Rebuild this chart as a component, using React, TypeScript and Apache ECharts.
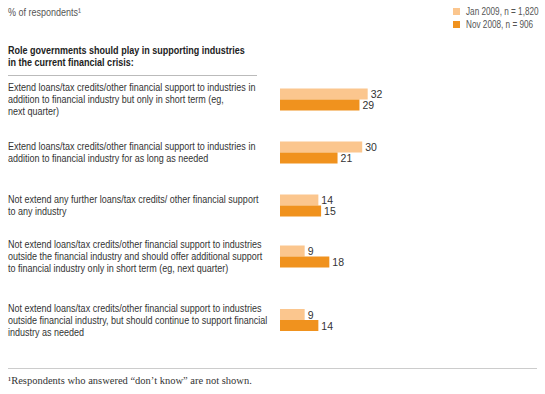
import React, { useEffect, useRef } from "react";
import * as echarts from "echarts";

const categories = [
  "Extend loans/tax credits/other financial support to industries in\naddition to financial industry but only in short term (eg,\nnext quarter)",
  "Extend loans/tax credits/other financial support to industries in\naddition to financial industry for as long as needed",
  "Not extend any further loans/tax credits/ other financial support\nto any industry",
  "Not extend loans/tax credits/other financial support to industries\noutside the financial industry and should offer additional support\nto financial industry only in short term (eg, next quarter)",
  "Not extend loans/tax credits/other financial support to industries\noutside financial industry, but should continue to support financial\nindustry as needed",
];
const seriesNames = ["Jan 2009, n = 1,820", "Nov 2008, n = 906"];
const jan2009 = [32, 30, 14, 9, 9];
const nov2008 = [29, 21, 15, 18, 14];

const groupCenters = [99.5, 152.5, 205.5, 256.5, 320];
const LIGHT = "#FBC68E";
const DARK = "#F0921E";
const FONT = "'Liberation Sans', Arial, sans-serif";
const NARROW = 0.82;

export default function App() {
  const ref = useRef<HTMLDivElement>(null);
  useEffect(() => {
    if (!ref.current) return;
    const chart = echarts.init(ref.current, null, { renderer: "svg" });
    const grids: any[] = [];
    const xAxes: any[] = [];
    const yAxes: any[] = [];
    const series: any[] = [];
    const labelTexts: any[] = [];
    categories.forEach((cat, i) => {
      grids.push({ left: 280, width: 137, top: groupCenters[i] - 11, height: 22 });
      xAxes.push({ gridIndex: i, type: "value", min: 0, max: 50, show: false });
      yAxes.push({
        gridIndex: i,
        type: "category",
        inverse: true,
        data: [cat],
        axisLine: { show: false },
        axisTick: { show: false },
        axisLabel: { show: false },
      });
      labelTexts.push({
        type: "text",
        x: 8,
        y: groupCenters[i],
        scaleX: NARROW,
        style: {
          text: cat,
          font: `11px ${FONT}`,
          lineHeight: 12,
          fill: "#333",
          verticalAlign: "middle",
        },
      });
      [jan2009, nov2008].forEach((vals, s) => {
        series.push({
          type: "bar",
          name: seriesNames[s],
          xAxisIndex: i,
          yAxisIndex: i,
          data: [vals[i]],
          barWidth: 11,
          barGap: "0%",
          itemStyle: { color: s === 0 ? LIGHT : DARK },
          label: {
            show: true,
            position: "right",
            distance: 3,
            fontFamily: FONT,
            fontSize: 10.5,
            color: "#333",
          },
        });
      });
    });
    chart.setOption({
      animation: false,
      backgroundColor: "#fff",
      grid: grids,
      xAxis: xAxes,
      yAxis: yAxes,
      series,
      legend: {
        data: seriesNames,
        orient: "vertical",
        left: 448,
        top: 3,
        itemWidth: 7,
        itemHeight: 7,
        itemGap: 6,
        icon: "rect",
        formatter: () => "",
        textStyle: { fontSize: 1 },
        selectedMode: false,
      },
      graphic: [
        ...labelTexts,
        {
          type: "text",
          x: 466,
          y: 11.5,
          scaleX: NARROW,
          style: { text: seriesNames[0], font: `10px ${FONT}`, fill: "#555", verticalAlign: "middle" },
        },
        {
          type: "text",
          x: 466,
          y: 24.5,
          scaleX: NARROW,
          style: { text: seriesNames[1], font: `10px ${FONT}`, fill: "#555", verticalAlign: "middle" },
        },
        {
          type: "text",
          x: 8,
          y: 12,
          scaleX: NARROW,
          style: { text: "% of respondents¹", font: `11px ${FONT}`, fill: "#555", verticalAlign: "middle" },
        },
        {
          type: "text",
          x: 8,
          y: 56,
          scaleX: NARROW,
          style: {
            text: "Role governments should play in supporting industries\nin the current financial crisis:",
            font: `bold 11px ${FONT}`,
            lineHeight: 12,
            fill: "#222",
            verticalAlign: "middle",
          },
        },
        {
          type: "line",
          shape: { x1: 8, y1: 75.5, x2: 257, y2: 75.5 },
          style: { stroke: "#bbb", lineWidth: 1 },
        },
        {
          type: "line",
          shape: { x1: 8, y1: 368.5, x2: 537, y2: 368.5 },
          style: { stroke: "#ccc", lineWidth: 1 },
        },
        {
          type: "text",
          x: 8,
          y: 380,
          style: {
            text: "¹Respondents who answered “don’t know” are not shown.",
            font: `10.5px 'Liberation Serif', 'Times New Roman', serif`,
            fill: "#333",
            verticalAlign: "middle",
          },
        },
      ],
    });
    return () => chart.dispose();
  }, []);
  return (
    <div ref={ref} style={{ position: "fixed", left: 0, top: 0, width: 545, height: 394 }} />
  );
}
